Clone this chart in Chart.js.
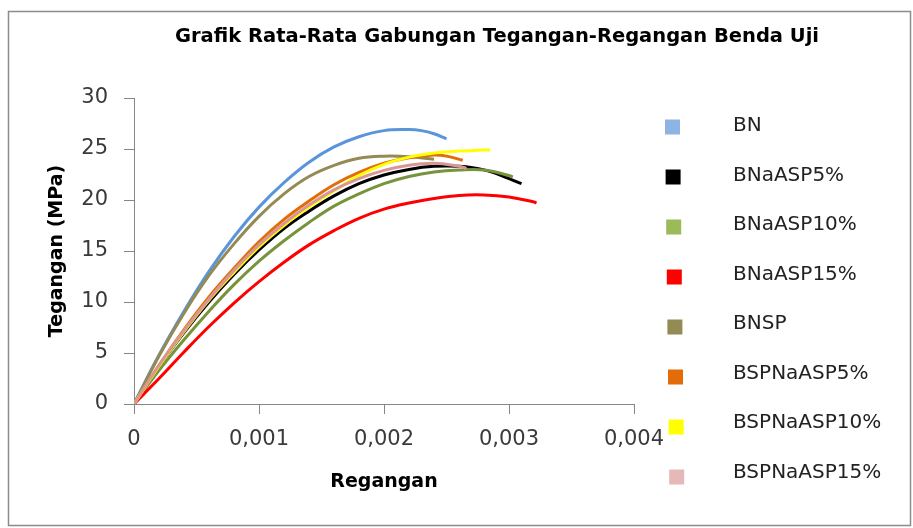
<!DOCTYPE html>
<html>
<head>
<meta charset="utf-8">
<script src="https://cdn.jsdelivr.net/npm/chart.js@4.4.1/dist/chart.umd.min.js"></script>
<style>
  html, body { margin: 0; padding: 0; background: #fff; }
  #wrap { width: 913px; height: 528px; }
</style>
</head>
<body>
<div id="wrap"><canvas id="stressChart"></canvas></div>
<script>
// Tegangan (MPa) vs Regangan
const seriesNames = ['BN', 'BNaASP5%', 'BNaASP10%', 'BNaASP15%', 'BNSP', 'BSPNaASP5%', 'BSPNaASP10%', 'BSPNaASP15%'];

const strainBN = [0, 0.0002, 0.0004, 0.0006, 0.0008, 0.001, 0.0012, 0.0014, 0.0016, 0.0018, 0.002, 0.0022, 0.0023, 0.0024, 0.0025];
const stressBN = [0, 4.8, 9.1, 13.0, 16.4, 19.3, 21.7, 23.7, 25.2, 26.2, 26.8, 26.9, 26.8, 26.5, 26.0];

const strainBNaASP5 = [0, 0.0002, 0.0004, 0.0006, 0.0008, 0.001, 0.0012, 0.0014, 0.0016, 0.0018, 0.002, 0.0022, 0.0024, 0.0026, 0.0028, 0.003, 0.0031];
const stressBNaASP5 = [0, 3.7, 7.0, 10.0, 12.7, 15.1, 17.2, 18.9, 20.4, 21.6, 22.45, 23.0, 23.3, 23.3, 22.95, 22.1, 21.6];

const strainBNaASP10 = [0, 0.0002, 0.0004, 0.0006, 0.0008, 0.001, 0.0012, 0.0014, 0.0016, 0.0018, 0.002, 0.0022, 0.0024, 0.0026, 0.0028, 0.003, 0.00303];
const stressBNaASP10 = [0, 3.3, 6.3, 9.1, 11.7, 14.0, 16.0, 17.8, 19.4, 20.6, 21.6, 22.3, 22.75, 22.95, 22.95, 22.4, 22.25];

const strainBNaASP15 = [0, 0.0002, 0.0004, 0.0006, 0.0008, 0.001, 0.0012, 0.0014, 0.0016, 0.0018, 0.002, 0.0022, 0.0024, 0.0026, 0.0028, 0.003, 0.0032, 0.00322];
const stressBNaASP15 = [0, 2.5, 5.1, 7.6, 9.9, 12.0, 13.9, 15.6, 17.0, 18.2, 19.1, 19.7, 20.15, 20.45, 20.5, 20.3, 19.8, 19.7];

const strainBNSP = [0, 0.0002, 0.0004, 0.0006, 0.0008, 0.001, 0.0012, 0.0014, 0.0016, 0.0018, 0.002, 0.0022, 0.0024];
const stressBNSP = [0, 4.7, 8.9, 12.6, 15.7, 18.4, 20.6, 22.3, 23.4, 24.1, 24.3, 24.25, 24.0];

const strainBSPNaASP5 = [0, 0.0002, 0.0004, 0.0006, 0.0008, 0.001, 0.0012, 0.0014, 0.0016, 0.0018, 0.002, 0.0022, 0.0024, 0.0025, 0.00263];
const stressBSPNaASP5 = [0, 3.8, 7.3, 10.5, 13.3, 15.9, 18.1, 19.9, 21.5, 22.7, 23.6, 24.15, 24.4, 24.3, 23.9];

const strainBSPNaASP10 = [0, 0.0002, 0.0004, 0.0006, 0.0008, 0.001, 0.0012, 0.0014, 0.0016, 0.0018, 0.002, 0.0022, 0.0024, 0.0026, 0.0028, 0.00285];
const stressBSPNaASP10 = [0, 3.7, 7.1, 10.2, 12.9, 15.4, 17.5, 19.3, 20.9, 22.4, 23.5, 24.2, 24.6, 24.8, 24.9, 24.9];

const strainBSPNaASP15 = [0, 0.0002, 0.0004, 0.0006, 0.0008, 0.001, 0.0012, 0.0014, 0.0016, 0.0018, 0.002, 0.0022, 0.0024, 0.0026, 0.00266];
const stressBSPNaASP15 = [0, 3.8, 7.2, 10.3, 13.1, 15.6, 17.7, 19.5, 21.0, 22.1, 22.9, 23.4, 23.6, 23.3, 23.1];

const xTickLabels = ['0', '0,001', '0,002', '0,003', '0,004'];
const yTickLabels = ['0', '5', '10', '15', '20', '25', '30'];

const lineColors = ['#5A94DB', '#000000', '#77933C', '#FF0000', '#948A54', '#E36C09', '#FFFF00', '#D99694'];
const boxColors = ['#8DB4E2', '#000000', '#9BBB59', '#FF0000', '#948A54', '#E36C09', '#FFFF00', '#E6B9B8'];

const strains = [strainBN, strainBNaASP5, strainBNaASP10, strainBNaASP15, strainBNSP, strainBSPNaASP5, strainBSPNaASP10, strainBSPNaASP15];
const stresses = [stressBN, stressBNaASP5, stressBNaASP10, stressBNaASP15, stressBNSP, stressBSPNaASP5, stressBSPNaASP10, stressBSPNaASP15];

const datasets = seriesNames.map((name, i) => ({
  label: name,
  data: strains[i].map((x, j) => ({ x: x, y: stresses[i][j] })),
  borderColor: lineColors[i],
  backgroundColor: lineColors[i],
  borderWidth: 3,
  pointRadius: 0,
  tension: 0.4,
  fill: false,
  order: seriesNames.length - i   // later series drawn on top, like the original
}));

// white page, outer frame, title and the side legend
const framePlugin = {
  id: 'frame',
  beforeDraw(chart) {
    const ctx = chart.ctx;
    ctx.save();
    ctx.fillStyle = '#fff';
    ctx.fillRect(0, 0, chart.width, chart.height);
    ctx.strokeStyle = '#8c8c8c';
    ctx.lineWidth = 1.5;
    ctx.strokeRect(8.5, 11.5, 902, 514);
    ctx.restore();
  },
  afterDraw(chart) {
    const ctx = chart.ctx;
    ctx.save();
    ctx.fillStyle = '#000';
    ctx.font = 'bold 19.5px "DejaVu Sans"';
    ctx.textAlign = 'center';
    ctx.textBaseline = 'alphabetic';
    ctx.fillText('Grafik Rata-Rata Gabungan Tegangan-Regangan Benda Uji', 497, 42);

    ctx.font = '20px "DejaVu Sans"';
    ctx.textAlign = 'left';
    ctx.textBaseline = 'middle';
    chart.data.datasets.forEach((ds, i) => {
      const by = 127 + i * 50;
      const ty = 126 + i * 49.5;
      ctx.fillStyle = boxColors[i];
      ctx.fillRect(665 + i * 0.6, by - 7.5, 15, 15);
      ctx.fillStyle = '#222';
      ctx.fillText(ds.label, 733, ty);
    });
    ctx.restore();
  }
};

const ctx = document.getElementById('stressChart').getContext('2d');
new Chart(ctx, {
  type: 'line',
  data: { datasets: datasets },
  options: {
    responsive: true,
    maintainAspectRatio: false,
    animation: false,
    layout: { padding: { left: 8, right: 279, top: 98, bottom: 0 } },
    plugins: {
      legend: { display: false },
      title: { display: false },
      tooltip: { enabled: false }
    },
    scales: {
      x: {
        type: 'linear',
        min: 0,
        max: 0.004,
        afterFit: (scale) => { scale.height = 124; },
        ticks: {
          stepSize: 0.001,
          color: '#3a3a3a',
          font: { family: 'DejaVu Sans', size: 21 },
          padding: 13,
          maxRotation: 0,
          callback: (v, i) => xTickLabels[i]
        },
        grid: { drawOnChartArea: false, drawTicks: true, tickLength: 10, color: '#868686' },
        border: { color: '#868686', width: 1 },
        title: {
          display: true,
          text: 'Regangan',
          color: '#000',
          font: { family: 'DejaVu Sans', size: 19, weight: 'bold' },
          padding: { top: 0, bottom: 35 }
        }
      },
      y: {
        type: 'linear',
        min: 0,
        max: 30,
        afterFit: (scale) => { scale.width = 126; },
        ticks: {
          stepSize: 5,
          color: '#3a3a3a',
          font: { family: 'DejaVu Sans', size: 21 },
          padding: 16,
          callback: (v, i) => yTickLabels[i]
        },
        grid: { drawOnChartArea: false, drawTicks: true, tickLength: 10, color: '#868686' },
        border: { color: '#868686', width: 1 },
        title: {
          display: true,
          text: 'Tegangan (MPa)',
          color: '#000',
          font: { family: 'DejaVu Sans', size: 19, weight: 'bold' },
          padding: { top: 38, bottom: 0 }
        }
      }
    }
  },
  plugins: [framePlugin]
});
</script>
</body>
</html>
